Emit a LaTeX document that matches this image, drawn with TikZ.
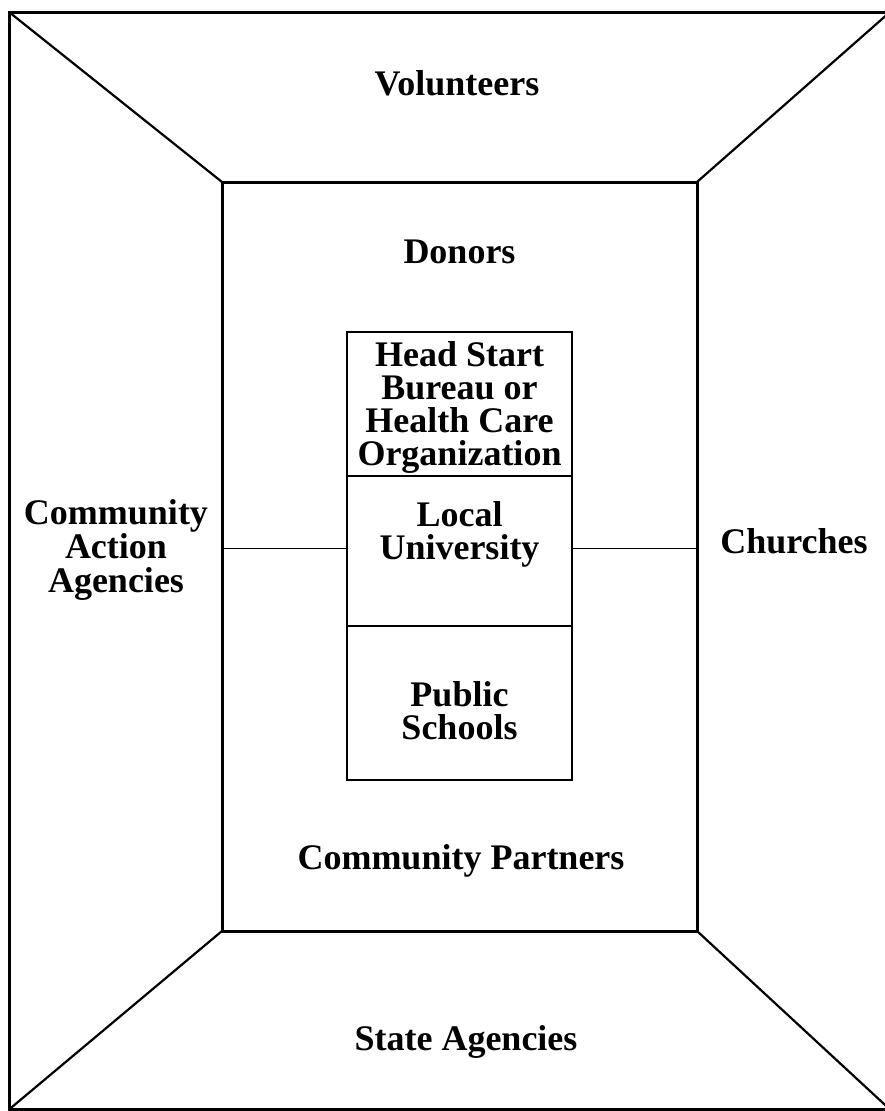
\documentclass[tikz,border=0pt]{standalone}
\usepackage{fontspec}
\setmainfont{Liberation Serif}
\usetikzlibrary{positioning}

\begin{document}
\begin{tikzpicture}[x=1pt,y=-1pt,
    frame/.style={draw,line width=3pt,outer sep=0pt,inner sep=0pt},
    part/.style={draw,line width=1.6pt,outer sep=0pt,inner sep=0pt,minimum width=225pt,
        align=center,font=\fontsize{36}{33}\selectfont\bfseries},
    lbl/.style={align=center,inner sep=0pt,font=\fontsize{36}{34}\selectfont\bfseries}]
        \useasboundingbox (0,0) rectangle (884,1111);
        \node [frame,minimum width=881pt,minimum height=1097.5pt] (outer) at (449.5,560.75) {};
        \node [frame,minimum width=475pt,minimum height=749pt] (inner) at (459.5,556.5) {};

        \draw [line width=2.2pt] (outer.north west) -- (inner.north west);
        \draw [line width=2.2pt] (outer.north east) -- (inner.north east);
        \draw [line width=2.2pt] (outer.south west) -- (inner.south west);
        \draw [line width=2.2pt] (outer.south east) -- (inner.south east);

        \node [part,minimum height=144pt,text height=131.5pt] (hsb) at (459.5,404) {Head Start\\Bureau or\\Health Care\\Organization};
        \node [part,minimum height=150pt,text depth=40pt,below=0pt of hsb] (univ) {Local\\University};
        \node [part,minimum height=154pt,text height=73pt,below=0pt of univ] (schools) {Public\\Schools};

        \draw [line width=1pt] (inner.west |- 0,548) -- (univ.west |- 0,548);
        \draw [line width=1pt] (univ.east |- 0,548) -- (inner.east |- 0,548);

        \node [lbl,anchor=base] (vol) at (457,95) {Volunteers};
        \node [lbl,anchor=base] (don) at (459.5,263) {Donors};
        \node [lbl,anchor=base] (cp) at (461,869) {Community Partners};
        \node [lbl,anchor=base] (state) at (466,1050) {State Agencies};
        \node [lbl,anchor=base] (church) at (794,553) {Churches};
        \node [lbl] (caa) at (116,550) {Community\\Action\\Agencies};
\end{tikzpicture}
\end{document}
